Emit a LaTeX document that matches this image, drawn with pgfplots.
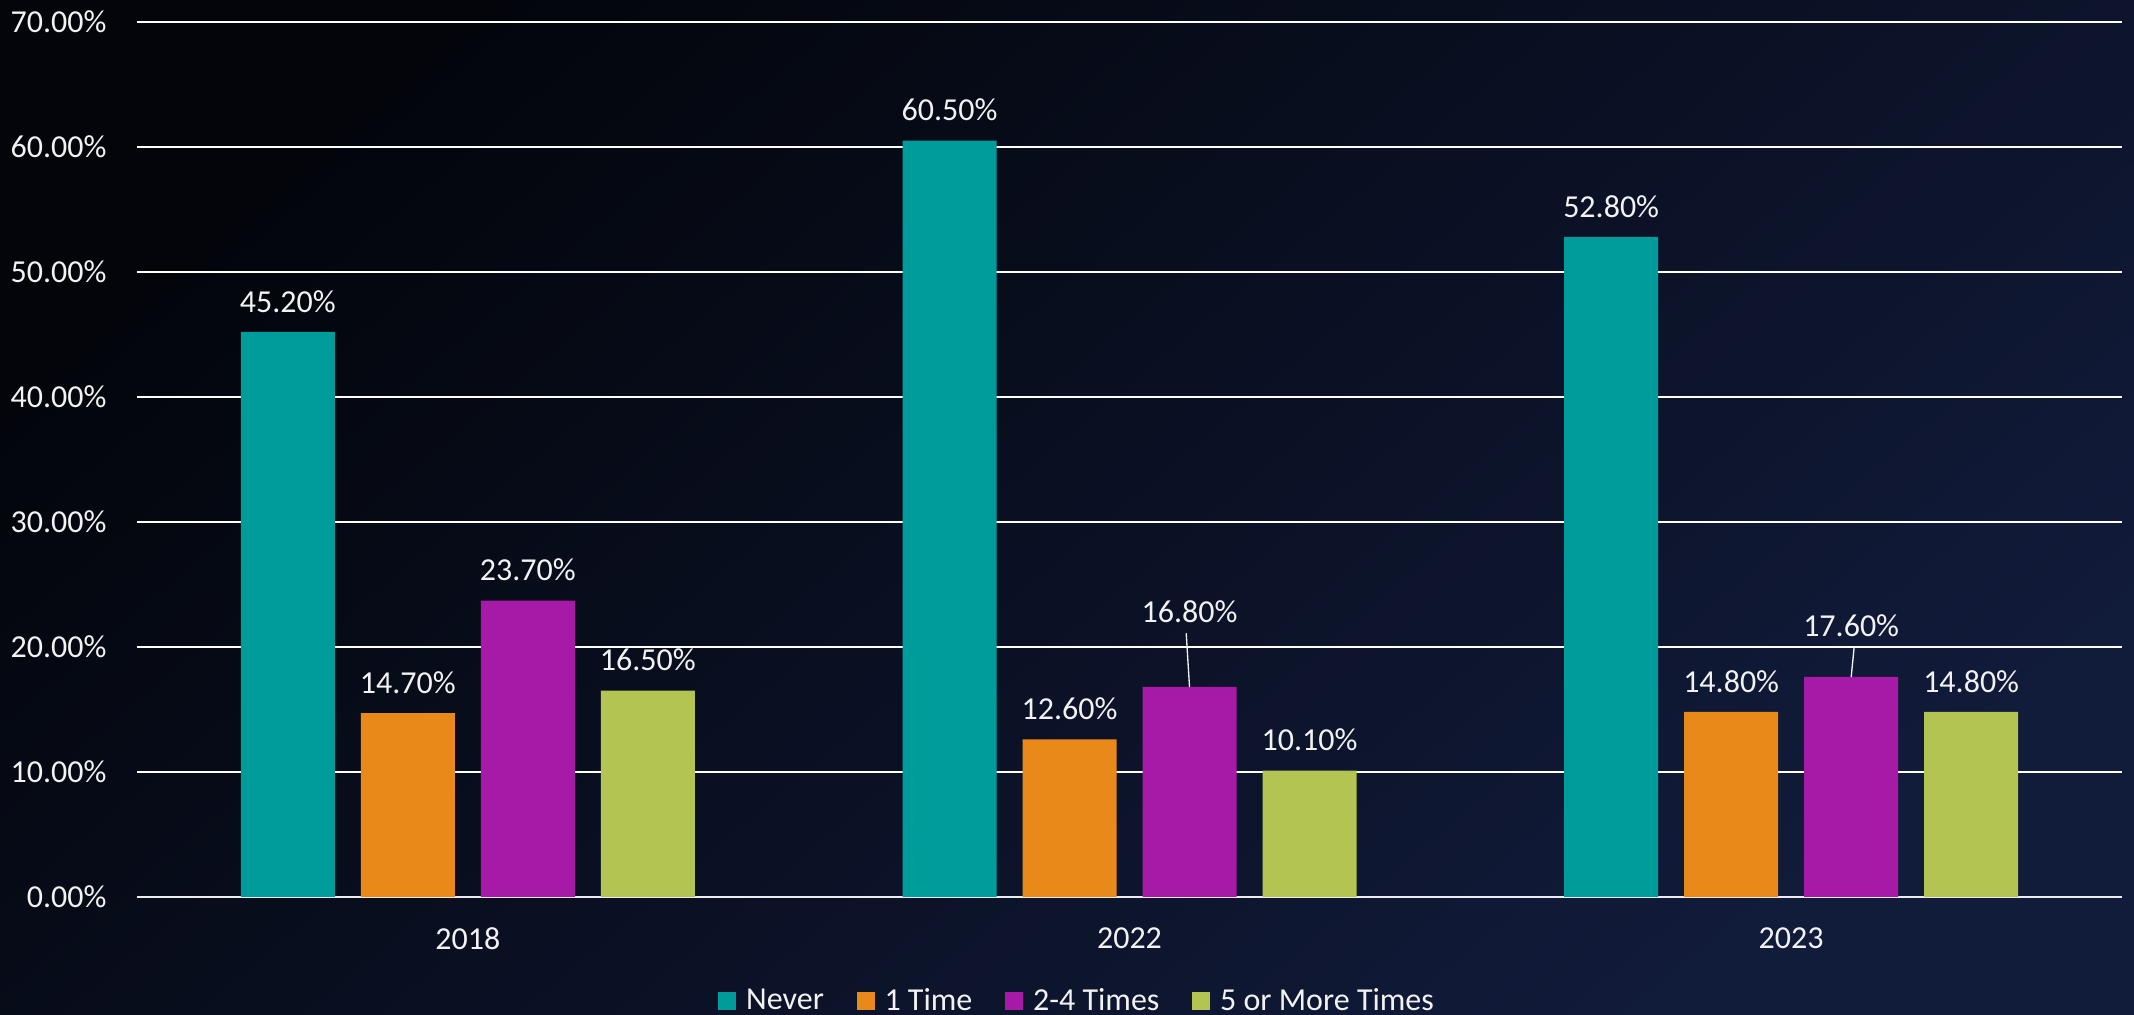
\documentclass[border=0pt]{standalone}
\usepackage{pgfplots}
\pgfplotsset{compat=1.18}
\usepackage{fontspec}
\setmainfont{Carlito}
\definecolor{cTeal}{HTML}{009B9B}
\definecolor{cOrange}{HTML}{E8891A}
\definecolor{cPurple}{HTML}{A71AA8}
\definecolor{cGreen}{HTML}{B3C452}
\definecolor{bgA}{HTML}{03050B}
\definecolor{bgB}{HTML}{111B3A}
\definecolor{txt}{HTML}{F2F2F2}
\newcommand{\fs}{\fontsize{12}{14}\selectfont}
\begin{document}
\begin{tikzpicture}
\shade[top color=bgA, bottom color=bgB, shading angle=40] (-51.375pt,-44.25pt) rectangle (748.875pt,336.375pt);
\begin{axis}[
  at={(0,0)}, anchor=south west,
  scale only axis, width=744.375pt, height=328.125pt,
  xmin=-0.5, xmax=2.5, ymin=0, ymax=70,
  xtick={0,1,2}, xticklabels={2018,2022,2023},
  ytick={0,10,...,70},
  yticklabel={\pgfmathprintnumber[fixed,fixed zerofill,precision=2]{\tick}\%},
  /pgf/number format/assume math mode=true,
  tick label style={font=\fs, text=txt},
  yticklabel style={inner sep=0pt, xshift=-11.25pt, anchor=east},
  xticklabel style={inner sep=0pt, yshift=-11.25pt, anchor=north},
  major tick length=0pt,
  tick style={draw=none},
  axis x line*=bottom, axis y line*=left,
  x axis line style={draw=white!85!gray, line width=0.75pt},
  y axis line style={draw=none},
  ymajorgrids, grid style={draw=white, line width=0.75pt},
  ybar, bar width=35.25pt,
  legend style={at={(axis description cs:0.4756,-0.1189)}, anchor=center,
    draw=none, fill=none, text=txt, font=\fs,
    legend columns=-1,
    /tikz/every even column/.append style={column sep=8.5pt},
    nodes={inner xsep=3.75pt}},
  legend image code/.code={\fill[#1] (0pt,-3.375pt) rectangle (6.75pt,3.375pt);},
  lbl/.style={nodes near coords={\pgfmathprintnumber[fixed,fixed zerofill,precision=2]{\pgfplotspointmeta}\%},
    nodes near coords style={font=\fs, text=txt, anchor=center, inner sep=0pt, yshift=\myshift}},
]
\addplot[fill=cTeal, draw=none, bar shift=-67.5pt, lbl,
  visualization depends on={\thisrow{s}\as\myshift}] table {
x y s
0 45.2 11.5pt
1 60.5 11.5pt
2 52.8 11.5pt
};
\addplot[fill=cOrange, draw=none, bar shift=-22.5pt, lbl,
  visualization depends on={\thisrow{s}\as\myshift}] table {
x y s
0 14.7 11.5pt
1 12.6 11.5pt
2 14.8 11.5pt
};
\addplot[fill=cPurple, draw=none, bar shift=22.5pt, lbl,
  visualization depends on={\thisrow{s}\as\myshift}] table {
x y s
0 23.7 11.5pt
1 16.8 28.1pt
2 17.6 19.4pt
};
\addplot[fill=cGreen, draw=none, bar shift=67.5pt, lbl,
  visualization depends on={\thisrow{s}\as\myshift}] table {
x y s
0 16.5 11.5pt
1 10.1 11.5pt
2 14.8 11.5pt
};
\legend{Never,1 Time,2-4 Times,5 or More Times}
\addplot[sharp plot, draw=txt, line width=0.5pt, forget plot] coordinates {(1.0907,16.8) (1.0857,21.1)};
\addplot[sharp plot, draw=txt, line width=0.5pt, forget plot] coordinates {(2.0907,17.6) (2.0952,20.0)};
\end{axis}
\pgfresetboundingbox
\useasboundingbox (-51.375pt,-44.25pt) rectangle (748.875pt,336.375pt);
\end{tikzpicture}
\end{document}
